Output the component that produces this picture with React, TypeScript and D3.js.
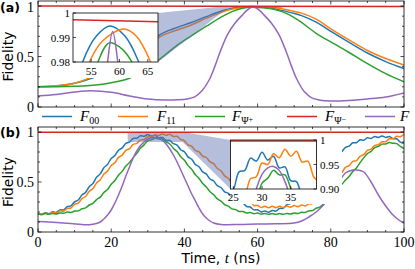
import React from 'react';
import * as d3 from 'd3';

// ---------- Panel (a) data ----------
const tBlueA = [0, 5, 10, 15, 20, 25, 30, 33.5, 37, 41.7, 46, 50, 53.5, 56, 58.4, 61, 63.4, 66, 69, 72, 76, 80, 85, 90, 95, 100];
const blueA = [0.2, 0.207, 0.235, 0.29, 0.37, 0.48, 0.63, 0.72, 0.775, 0.835, 0.895, 0.948, 0.98, 0.9908, 0.9947, 0.9905, 0.98, 0.962, 0.935, 0.905, 0.84, 0.75, 0.64, 0.535, 0.45, 0.38];
const tOrangeA = [0, 5, 10, 14.5, 20, 25, 30, 33.5, 37, 41.7, 46, 50, 52, 54.7, 57, 60.8, 63, 65.5, 68, 72, 76, 80, 85, 90, 95, 100];
const orangeA = [0.2, 0.21, 0.235, 0.295, 0.38, 0.47, 0.6, 0.7, 0.75, 0.81, 0.88, 0.935, 0.96, 0.98, 0.9886, 0.9935, 0.9905, 0.98, 0.963, 0.93, 0.87, 0.775, 0.665, 0.56, 0.48, 0.415];
const tGreenA = [0, 5, 10, 15, 20, 25, 30, 33.5, 38, 41.7, 46, 50, 53, 56.2, 58.2, 60, 62.2, 65, 68, 71.7, 76, 80.7, 85, 90, 95, 100];
const greenA = [0.2, 0.2, 0.205, 0.215, 0.24, 0.285, 0.39, 0.48, 0.61, 0.7, 0.8, 0.89, 0.945, 0.98, 0.9878, 0.9862, 0.98, 0.962, 0.925, 0.845, 0.73, 0.63, 0.54, 0.43, 0.33, 0.25];
const tRedA = [0, 100];
const redA = [1.0, 0.9946];
const tPurpleA = [0, 5, 10, 14.5, 20, 25, 30, 35, 38, 40.8, 42.8, 44.8, 46.8, 48.3, 49.8, 51.8, 53.8, 55.8, 57, 57.9, 58.8, 59.7, 60.6, 61.8, 63.8, 65.8, 67.8, 69.3, 70.8, 72.8, 74.8, 76.8, 80, 85, 90, 95, 100];
const purpleA = [0.11, 0.125, 0.148, 0.16, 0.145, 0.11, 0.08, 0.07, 0.072, 0.08, 0.1, 0.16, 0.27, 0.4, 0.55, 0.72, 0.83, 0.91, 0.955, 0.98, 0.9924, 0.98, 0.955, 0.91, 0.83, 0.72, 0.55, 0.4, 0.27, 0.15, 0.09, 0.07, 0.06, 0.065, 0.08, 0.1, 0.14];

// ---------- Panel (b) data (sampled every 1 ns) ----------
const tB = d3.range(0, 101);
const blueB = [0.187, 0.175, 0.192, 0.182, 0.202, 0.196, 0.221, 0.221, 0.253, 0.261, 0.302, 0.32, 0.37, 0.396, 0.453, 0.485, 0.547, 0.581, 0.643, 0.676, 0.735, 0.764, 0.818, 0.841, 0.887, 0.899, 0.935, 0.938, 0.963, 0.957, 0.975, 0.959, 0.967, 0.943, 0.945, 0.917, 0.915, 0.883, 0.869, 0.823, 0.802, 0.751, 0.727, 0.675, 0.652, 0.601, 0.579, 0.53, 0.51, 0.463, 0.445, 0.401, 0.387, 0.347, 0.337, 0.299, 0.29, 0.255, 0.25, 0.221, 0.223, 0.201, 0.211, 0.197, 0.215, 0.209, 0.235, 0.238, 0.274, 0.286, 0.329, 0.348, 0.397, 0.423, 0.477, 0.503, 0.557, 0.583, 0.637, 0.663, 0.717, 0.738, 0.787, 0.803, 0.847, 0.858, 0.892, 0.893, 0.922, 0.918, 0.942, 0.935, 0.955, 0.945, 0.961, 0.946, 0.955, 0.933, 0.932, 0.898, 0.887];
const orangeB = [0.187, 0.174, 0.19, 0.179, 0.197, 0.189, 0.211, 0.208, 0.236, 0.24, 0.276, 0.289, 0.334, 0.355, 0.407, 0.434, 0.491, 0.521, 0.579, 0.609, 0.666, 0.693, 0.746, 0.769, 0.817, 0.834, 0.876, 0.886, 0.921, 0.925, 0.953, 0.95, 0.972, 0.964, 0.981, 0.967, 0.977, 0.955, 0.957, 0.925, 0.912, 0.871, 0.857, 0.815, 0.801, 0.759, 0.745, 0.701, 0.683, 0.635, 0.613, 0.561, 0.537, 0.483, 0.457, 0.403, 0.377, 0.325, 0.305, 0.265, 0.265, 0.245, 0.257, 0.243, 0.257, 0.243, 0.257, 0.244, 0.259, 0.247, 0.264, 0.253, 0.271, 0.261, 0.282, 0.283, 0.327, 0.353, 0.407, 0.433, 0.487, 0.513, 0.567, 0.593, 0.647, 0.663, 0.707, 0.713, 0.757, 0.773, 0.817, 0.828, 0.867, 0.873, 0.902, 0.903, 0.932, 0.933, 0.957, 0.953, 0.977];
const greenB = [0.184, 0.176, 0.184, 0.177, 0.186, 0.18, 0.191, 0.187, 0.2, 0.196, 0.209, 0.211, 0.232, 0.241, 0.27, 0.287, 0.324, 0.349, 0.394, 0.426, 0.477, 0.514, 0.568, 0.606, 0.659, 0.694, 0.744, 0.786, 0.839, 0.871, 0.912, 0.922, 0.938, 0.929, 0.929, 0.902, 0.88, 0.836, 0.804, 0.753, 0.717, 0.664, 0.626, 0.573, 0.536, 0.484, 0.45, 0.402, 0.373, 0.331, 0.308, 0.273, 0.258, 0.231, 0.224, 0.205, 0.204, 0.19, 0.194, 0.183, 0.189, 0.179, 0.186, 0.177, 0.184, 0.176, 0.184, 0.177, 0.186, 0.18, 0.19, 0.185, 0.197, 0.195, 0.211, 0.214, 0.237, 0.248, 0.279, 0.306, 0.364, 0.406, 0.454, 0.476, 0.519, 0.556, 0.604, 0.641, 0.694, 0.741, 0.784, 0.806, 0.844, 0.856, 0.879, 0.881, 0.894, 0.888, 0.884, 0.856, 0.834];
const tRedB = [0, 100];
const redB = [0.998, 0.998];
const tPurpleB = [0, 3, 6, 9, 12, 14, 16, 17, 18, 19, 20, 21, 22, 23, 24, 25, 26, 27, 28, 29, 30, 31, 32, 33, 34, 35, 36, 37, 38, 39, 40, 41, 42, 43, 44, 45, 46, 47, 48, 50, 55, 60, 65, 70, 72, 74, 76, 78, 80, 82, 84, 86, 87, 89, 91, 93, 95, 97, 99, 100];
const purpleB = [0.105, 0.1, 0.093, 0.085, 0.075, 0.072, 0.085, 0.1, 0.13, 0.17, 0.22, 0.29, 0.37, 0.46, 0.56, 0.65, 0.74, 0.81, 0.865, 0.9, 0.93, 0.943, 0.946, 0.938, 0.915, 0.88, 0.83, 0.77, 0.7, 0.62, 0.54, 0.46, 0.38, 0.31, 0.24, 0.18, 0.14, 0.11, 0.09, 0.075, 0.075, 0.08, 0.082, 0.09, 0.11, 0.15, 0.2, 0.27, 0.36, 0.48, 0.59, 0.62, 0.62, 0.6, 0.5, 0.37, 0.26, 0.17, 0.11, 0.09];

const xTicksMajor = [0, 20, 40, 60, 80, 100];
const yTicksMajor = [0, 0.5, 1];
const yTickLabels = ['0', '0.5', '1'];
const insetATicksX = [55, 60, 65];
const insetATicksY = [0.98, 0.99, 1.0];
const insetATickLabelsY = ['0.98', '0.99', '1'];
const insetBTicksX = [25, 30, 35];
const insetBTicksY = [0.9, 0.95, 1.0];
const insetBTickLabelsY = ['0.90', '0.95', '1'];

const C = { blue: '#1f77b4', orange: '#ff7f0e', green: '#2ca02c', red: '#d62728', purple: '#9467bd' };
const SERIF = '"Liberation Serif", "DejaVu Serif", serif';
const SANS = '"DejaVu Sans", sans-serif';

type S = { t: number[]; v: number[]; c: string };

export default function App() {
  const x = d3.scaleLinear().domain([0, 100]).range([38, 404]);
  const yA = d3.scaleLinear().domain([0, 1.05]).range([107, 1]);
  const yB = d3.scaleLinear().domain([0, 1.05]).range([232, 127]);
  const xIA = d3.scaleLinear().domain([51.8, 66.8]).range([73, 158]);
  const yIA = d3.scaleLinear().domain([0.98, 1.0]).range([62, 13]);
  const xIB = d3.scaleLinear().domain([24.5, 39.5]).range([230.5, 316.5]);
  const yIB = d3.scaleLinear().domain([0.9, 1.0]).range([189, 140]);

  const path = (xs: any, ys: any, s: S) =>
    d3.line<number>().x((_, i) => xs(s.t[i])).y((v) => ys(v)).curve(d3.curveCatmullRom.alpha(0.5))(s.v) || '';

  const serA: S[] = [
    { t: tBlueA, v: blueA, c: C.blue },
    { t: tOrangeA, v: orangeA, c: C.orange },
    { t: tGreenA, v: greenA, c: C.green },
    { t: tPurpleA, v: purpleA, c: C.purple },
  ];
  const redSA: S = { t: tRedA, v: redA, c: C.red };
  const serB: S[] = [
    { t: tB, v: blueB, c: C.blue },
    { t: tB, v: orangeB, c: C.orange },
    { t: tB, v: greenB, c: C.green },
    { t: tPurpleB, v: purpleB, c: C.purple },
  ];
  const redSB: S = { t: tRedB, v: redB, c: C.red };

  const insetOrderA: S[] = [serA[0], serA[1], serA[2], redSA, serA[3]];
  const insetOrderB: S[] = [serB[0], serB[1], serB[2], redSB, serB[3]];

  const minorX = d3.range(0, 101, 5);
  const minorY = d3.range(0, 1.05, 0.1);

  const frameTicks = (ys: any, key: string) => {
    const [y0, y1] = [ys(0), ys.range()[1]];
    const xl = x(0), xr = x(100);
    const out: any[] = [];
    minorX.forEach((t) => {
      const L = t % 20 === 0 ? 3.5 : 2;
      out.push(<line key={key + 'xb' + t} x1={x(t)} x2={x(t)} y1={y0} y2={y0 - L} stroke="#000" strokeWidth={0.7} />);
      out.push(<line key={key + 'xt' + t} x1={x(t)} x2={x(t)} y1={y1} y2={y1 + L} stroke="#000" strokeWidth={0.7} />);
    });
    minorY.forEach((v, i) => {
      const L = i % 5 === 0 ? 3.5 : 2;
      out.push(<line key={key + 'yl' + i} x1={xl} x2={xl + L} y1={ys(v)} y2={ys(v)} stroke="#000" strokeWidth={0.7} />);
      out.push(<line key={key + 'yr' + i} x1={xr} x2={xr - L} y1={ys(v)} y2={ys(v)} stroke="#000" strokeWidth={0.7} />);
    });
    return out;
  };

  const poly = (pts: [number, number][]) => pts.map((p) => p.join(',')).join(' ');
  const shadeA = poly([
    [xIA.range()[1], yIA(1.0)],
    [x(xIA.domain()[0]), yA(1.0)],
    [x(xIA.domain()[1]), yA(1.0)],
    [x(xIA.domain()[1]), yA(0.98)],
    [x(xIA.domain()[0]), yA(0.98)],
    [xIA.range()[1], yIA(0.98)],
  ]);
  const shadeB = poly([
    [x(xIB.domain()[0]), yB(1.0)],
    [x(xIB.domain()[1]), yB(1.0)],
    [xIB.range()[0], yIB(1.0)],
    [xIB.range()[0], yIB(0.9)],
    [x(xIB.domain()[1]), yB(0.9)],
    [x(xIB.domain()[0]), yB(0.9)],
  ]);

  const legend = [
    { c: C.blue, x0: 42, tx: 80, sub: '00', sup: '' },
    { c: C.orange, x0: 118, tx: 157, sub: '11', sup: '' },
    { c: C.green, x0: 195, tx: 232, sub: 'Ψ', sup: '+' },
    { c: C.red, x0: 287, tx: 325, sub: 'Ψ', sup: '−' },
    { c: C.purple, x0: 365, tx: 400, sub: '', sup: '' },
  ];

  return (
    <svg width={415} height={269} style={{ position: 'absolute', left: 0, top: 0, background: '#fff' }}>
      <defs>
        <clipPath id="cA"><rect x={38} y={1} width={366} height={106} /></clipPath>
        <clipPath id="cB"><rect x={38} y={127} width={366} height={105} /></clipPath>
        <clipPath id="cIA"><rect x={73} y={13} width={85} height={49} /></clipPath>
        <clipPath id="cIB"><rect x={230.5} y={140} width={86} height={49} /></clipPath>
      </defs>
      <rect x={0} y={0} width={415} height={269} fill="#fff" />

      {/* ===== Panel (a) ===== */}
      <g clipPath="url(#cA)">
        {serA.map((s, i) => (
          <path key={'a' + i} d={path(x, yA, s)} fill="none" stroke={s.c} strokeWidth={1.5} />
        ))}
        <polygon points={shadeA} fill="#5a6fb0" fillOpacity={0.45} />
        <path d={path(x, yA, redSA)} fill="none" stroke={C.red} strokeWidth={1.5} />
      </g>
      <rect x={44} y={9} width={114} height={69} fill="#fff" />
      <g clipPath="url(#cIA)">
        {insetOrderA.map((s, i) => (
          <path key={'ia' + i} d={path(xIA, yIA, s)} fill="none" stroke={s.c} strokeWidth={1.5} />
        ))}
      </g>
      <rect x={73} y={13} width={85} height={49} fill="none" stroke="#000" strokeWidth={0.8} />
      {insetATicksX.map((t) => (
        <g key={'iax' + t}>
          <line x1={xIA(t)} x2={xIA(t)} y1={62} y2={59} stroke="#000" strokeWidth={0.7} />
          <text x={xIA(t)} y={75} textAnchor="middle" fontFamily={SERIF} fontSize={11}>{t}</text>
        </g>
      ))}
      {insetATicksY.map((v, i) => (
        <g key={'iay' + i}>
          <line x1={73} x2={76} y1={yIA(v)} y2={yIA(v)} stroke="#000" strokeWidth={0.7} />
          <text x={70} y={yIA(v) + 4} textAnchor="end" fontFamily={SERIF} fontSize={11}>{insetATickLabelsY[i]}</text>
        </g>
      ))}
      <rect x={38} y={1} width={366} height={106} fill="none" stroke="#000" strokeWidth={0.8} />
      {frameTicks(yA, 'A')}
      {yTicksMajor.map((v, i) => (
        <text key={'ya' + i} x={34} y={Math.max(yA(v) + 5, 12)} textAnchor="end" fontFamily={SERIF} fontSize={14}>{yTickLabels[i]}</text>
      ))}
      <text transform={`translate(13,${yA(0.5)}) rotate(-90)`} textAnchor="middle" fontFamily={SANS} fontSize={14}>Fidelity</text>
      <text x={0} y={11.5} fontFamily={SANS} fontWeight="bold" fontSize={12.5}>(a)</text>

      {/* ===== Legend ===== */}
      {legend.map((l, i) => (
        <g key={'lg' + i}>
          <line x1={l.x0} x2={l.x0 + 30} y1={116.5} y2={116.5} stroke={l.c} strokeWidth={1.5} />
          <text x={l.tx} y={120.5} fontFamily={SERIF} fontSize={15} fontStyle="italic">
            F
            {l.sub && <tspan fontStyle="normal" fontSize={10} dy={3}>{l.sub}</tspan>}
            {l.sup && <tspan fontStyle="normal" fontSize={8} dy={-2}>{l.sup}</tspan>}
          </text>
        </g>
      ))}

      {/* ===== Panel (b) ===== */}
      <g clipPath="url(#cB)">
        {serB.map((s, i) => (
          <path key={'b' + i} d={path(x, yB, s)} fill="none" stroke={s.c} strokeWidth={1.5} />
        ))}
        <polygon points={shadeB} fill="#5a6fb0" fillOpacity={0.45} />
        <path d={path(x, yB, redSB)} fill="none" stroke={C.red} strokeWidth={1.5} />
      </g>
      <rect x={230.5} y={137} width={111.5} height={67} fill="#fff" />
      <g clipPath="url(#cIB)">
        {insetOrderB.map((s, i) => (
          <path key={'ib' + i} d={path(xIB, yIB, s)} fill="none" stroke={s.c} strokeWidth={1.5} />
        ))}
      </g>
      <rect x={230.5} y={140} width={86} height={49} fill="none" stroke="#000" strokeWidth={0.8} />
      {insetBTicksX.map((t) => (
        <g key={'ibx' + t}>
          <line x1={xIB(t)} x2={xIB(t)} y1={189} y2={186} stroke="#000" strokeWidth={0.7} />
          <text x={xIB(t)} y={201} textAnchor="middle" fontFamily={SERIF} fontSize={11}>{t}</text>
        </g>
      ))}
      {insetBTicksY.map((v, i) => (
        <g key={'iby' + i}>
          <line x1={316.5} x2={313.5} y1={yIB(v)} y2={yIB(v)} stroke="#000" strokeWidth={0.7} />
          <text x={320} y={yIB(v) + 4} textAnchor="start" fontFamily={SERIF} fontSize={11}>{insetBTickLabelsY[i]}</text>
        </g>
      ))}
      <rect x={38} y={127} width={366} height={105} fill="none" stroke="#000" strokeWidth={0.8} />
      {frameTicks(yB, 'B')}
      {yTicksMajor.map((v, i) => (
        <text key={'yb' + i} x={34} y={yB(v) + 5} textAnchor="end" fontFamily={SERIF} fontSize={14}>{yTickLabels[i]}</text>
      ))}
      {xTicksMajor.map((t) => (
        <text key={'xb' + t} x={x(t)} y={247} textAnchor="middle" fontFamily={SERIF} fontSize={14}>{t}</text>
      ))}
      <text transform={`translate(13,${yB(0.5)}) rotate(-90)`} textAnchor="middle" fontFamily={SANS} fontSize={14}>Fidelity</text>
      <text x={0} y={137} fontFamily={SANS} fontWeight="bold" fontSize={12.5}>(b)</text>
      <text x={221} y={263} textAnchor="middle" fontFamily={SANS} fontSize={14}>
        Time, <tspan fontFamily={SERIF} fontStyle="italic" fontSize={15}>t</tspan> (ns)
      </text>
    </svg>
  );
}
